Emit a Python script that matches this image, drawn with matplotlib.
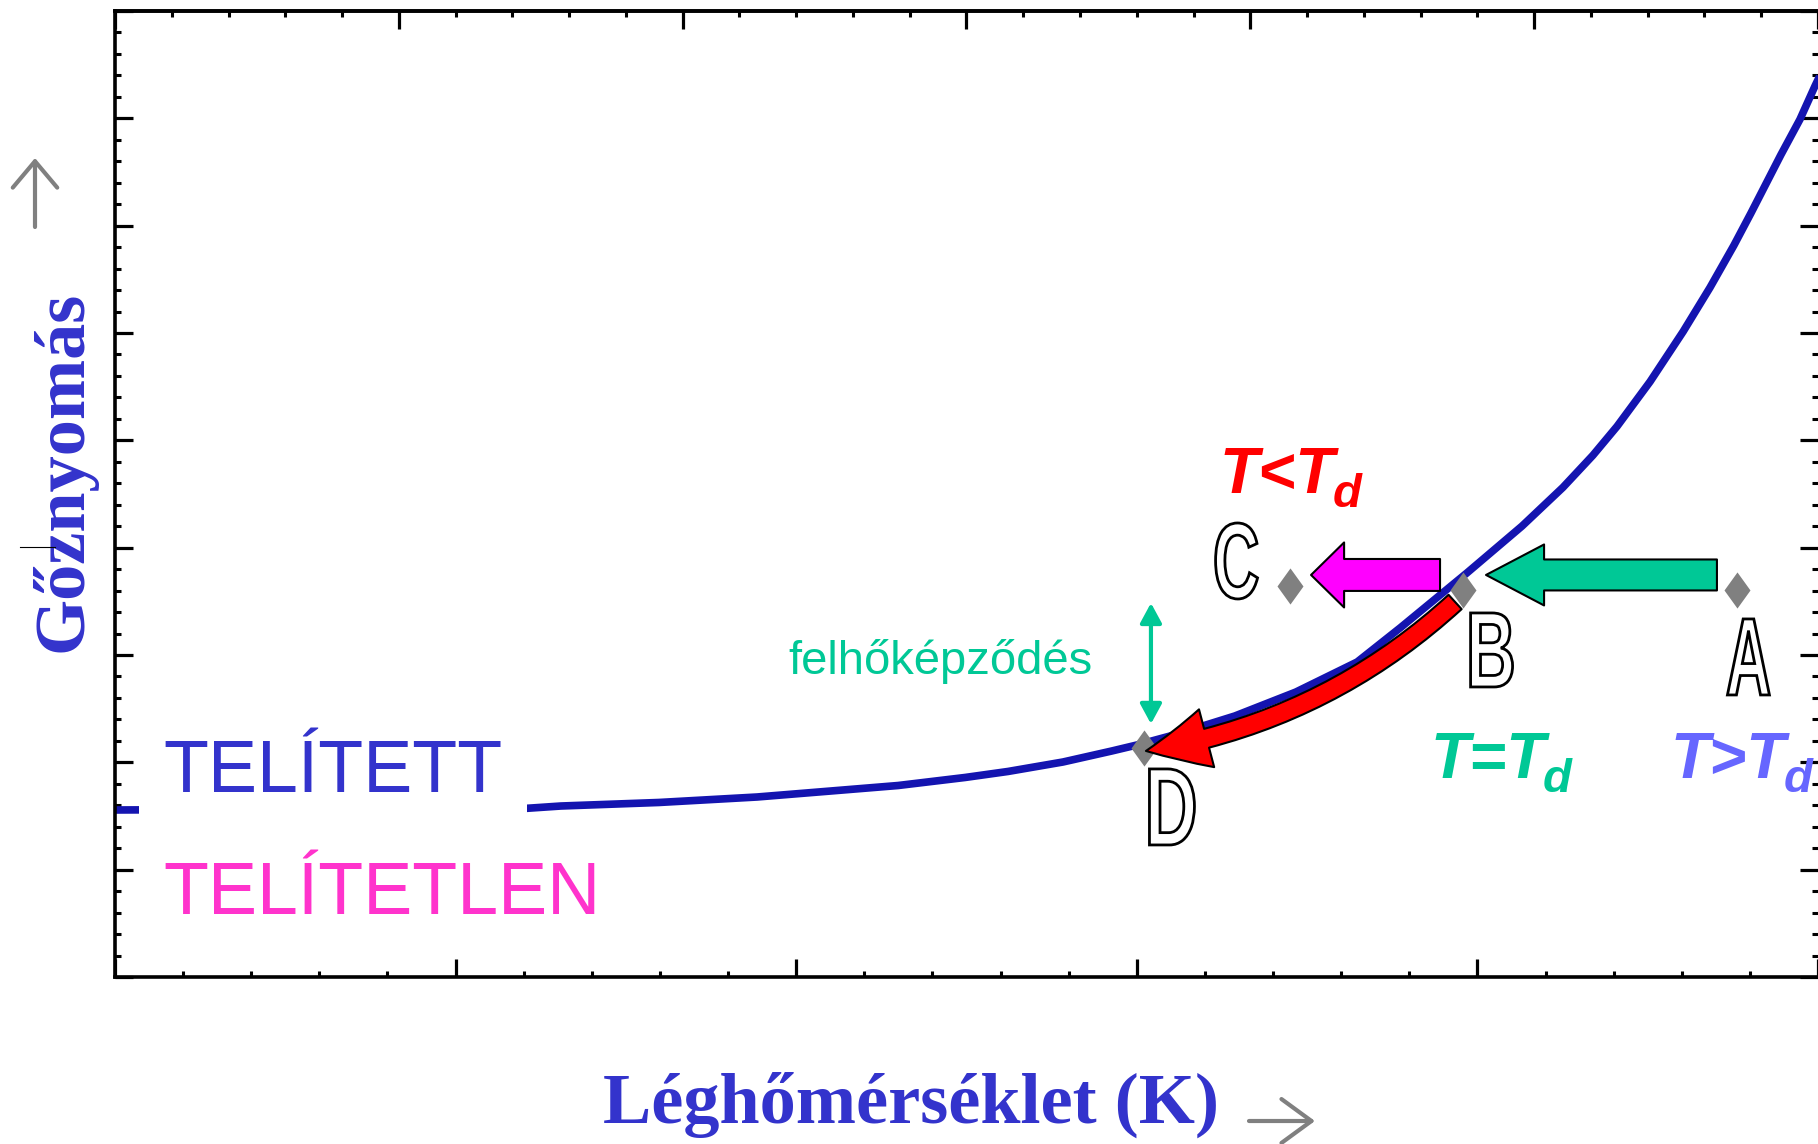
import matplotlib
matplotlib.use("Agg")
import matplotlib.pyplot as plt
import matplotlib.transforms as mtransforms
from matplotlib.patches import FancyArrowPatch, PathPatch, Rectangle, ArrowStyle
from matplotlib.textpath import TextPath
from matplotlib.font_manager import FontProperties
from matplotlib.ticker import MultipleLocator
from matplotlib.lines import Line2D

# saturation curve
curve_x = [0.000, 1.211, 1.309, 1.597, 1.885, 2.102, 2.299, 2.496, 2.622,
           2.783, 2.927, 3.001, 3.109, 3.288, 3.467, 3.647, 3.773, 3.969,
           4.131, 4.251, 4.339, 4.410, 4.507, 4.604, 4.683, 4.753, 4.803,
           4.891, 4.947, 4.991, 5.000]
curve_y = [1.556, 1.572, 1.593, 1.626, 1.677, 1.733, 1.784, 1.859, 1.915,
           2.003, 2.106, 2.162, 2.255, 2.432, 2.655, 2.935, 3.252, 3.764,
           4.201, 4.561, 4.860, 5.130, 5.547, 6.013, 6.424, 6.816, 7.116,
           7.660, 7.990, 8.300, 8.360]

# states of the air parcel
point_names = ["A", "B", "C", "D"]
point_x = [4.762, 3.958, 3.450, 3.021]
point_y = [3.606, 3.606, 3.643, 2.134]

W, H, DPI = 1818, 1144, 100
BLUE = "#3333cc"
GREEN = "#00c896"

fig = plt.figure(figsize=(W / DPI, H / DPI), dpi=DPI)
ax = fig.add_axes([115 / W, 1 - 977 / H, 1703 / W, 966 / H])
ax.set_xlim(0, 5)
ax.set_ylim(0, 9)
KX, KY = 5 / 1703, 9 / 966   # data units per pixel


def shift(dx, dy):
    # offset in pixels (y up)
    return mtransforms.ScaledTranslation(dx / DPI, dy / DPI, fig.dpi_scale_trans)


# axes frame and ticks
for s in ["left", "bottom", "top"]:
    ax.spines[s].set_linewidth(2.6)
ax.spines["right"].set_visible(False)
ax.xaxis.set_major_locator(MultipleLocator(1))
ax.xaxis.set_minor_locator(MultipleLocator(0.2))
ax.yaxis.set_major_locator(MultipleLocator(1))
ax.yaxis.set_minor_locator(MultipleLocator(0.2))
ax.tick_params(which="both", direction="in", left=True, right=True,
               bottom=True, top=False, labelleft=False, labelbottom=False)
ax.tick_params(which="major", length=13, width=2.3)
ax.tick_params(which="minor", length=4.5, width=2.2)

sec = ax.secondary_xaxis("top", functions=(lambda v: v * 6 / 5, lambda v: v * 5 / 6))
sec.xaxis.set_major_locator(MultipleLocator(1))
sec.xaxis.set_minor_locator(MultipleLocator(0.2))
sec.tick_params(which="both", direction="in", labeltop=False)
sec.tick_params(which="major", length=13, width=2.3)
sec.tick_params(which="minor", length=4.5, width=2.2)
sec.spines["top"].set_linewidth(2.6)

# curve + white gap behind the labels
ax.plot(curve_x, curve_y, color="#1414b0", lw=5.5, solid_joinstyle="round", zorder=2)
ax.add_patch(Rectangle((0.07, 1.42), 1.14, 0.28, facecolor="white",
                       edgecolor="none", zorder=2.5))

# diamonds
diamond = [(0, 1), (0.72, 0), (0, -1), (-0.72, 0), (0, 1)]
ax.plot(point_x, point_y, ls="none", marker=diamond, ms=26, color="#808080",
        mec="none", zorder=3)

pts = dict(zip(point_names, zip(point_x, point_y)))
xA, yA = pts["A"]
xB, yB = pts["B"]
xC, yC = pts["C"]
xD, yD = pts["D"]

# block arrows A->B (green), B->C (magenta), curved B->D (red)
ax.add_patch(FancyArrowPatch(
    (xA, yB), (xB, yB), transform=ax.transData + shift(0, 15),
    arrowstyle=ArrowStyle.Simple(head_length=41.8, head_width=43.9, tail_width=22.3),
    mutation_scale=1, shrinkA=14.4, shrinkB=16.5,
    fc=GREEN, ec="black", lw=1.5, zorder=4))
ax.add_patch(FancyArrowPatch(
    (xB, yB), (xC, yB), transform=ax.transData + shift(0, 15),
    arrowstyle=ArrowStyle.Simple(head_length=23.8, head_width=46.8, tail_width=23),
    mutation_scale=1, shrinkA=16.6, shrinkB=15.1,
    fc="#ff00ff", ec="black", lw=1.5, zorder=4))
ax.add_patch(FancyArrowPatch(
    (xB - 8 * KX, yB - 12 * KY), (xD + 2 * KX, yD - 3 * KY),
    connectionstyle="arc3,rad=-0.15",
    arrowstyle=ArrowStyle.Simple(head_length=44.6, head_width=43, tail_width=14),
    mutation_scale=1, shrinkA=0, shrinkB=0,
    fc="#ff0000", ec="black", lw=1.5, zorder=4))

# condensation height marker
ax.add_patch(FancyArrowPatch(
    (xD, yB), (xD, yD), transform=ax.transData + shift(7, 0),
    arrowstyle=ArrowStyle("<|-|>", head_length=12, head_width=6.5),
    mutation_scale=1, shrinkA=9.4, shrinkB=17.3,
    color=GREEN, lw=3, zorder=4))
ax.text(2.871, 2.824, "felhőképződés", fontsize=34, family="Liberation Sans",
        color=GREEN, ha="right", va="baseline", zorder=6)

# outlined point letters
letter_offsets = {"A": (11.5, -67), "B": (28.5, -60), "C": (-53.5, 25), "D": (28, -59)}
letter_sizes = {"A": (42, 76), "B": (42, 74), "C": (42, 76), "D": (45, 76)}
letter_font = FontProperties(family="Liberation Sans", weight="bold")
for name, x, y in zip(point_names, point_x, point_y):
    tp = TextPath((0, 0), name, size=100, prop=letter_font)
    bb = tp.get_extents()
    w, h = letter_sizes[name]
    dx, dy = letter_offsets[name]
    tr = (mtransforms.Affine2D()
          .translate(-(bb.x0 + bb.x1) / 2, -(bb.y0 + bb.y1) / 2)
          .scale(w / bb.width, h / bb.height)
          + mtransforms.ScaledTranslation(x, y, ax.transData) + shift(dx, dy))
    ax.add_patch(PathPatch(tp, transform=tr, facecolor="white",
                           edgecolor="black", lw=2.0, zorder=5))


# T vs Td labels
def td_label(x, y, rel, color):
    t = ax.text(x, y, "T" + rel + "T", fontsize=46, family="Liberation Sans",
                weight="bold", style="italic", color=color, va="baseline", zorder=6)
    ax.annotate("d", xy=(1, 0), xycoords=t, xytext=(-2, -1), textcoords="offset points",
                fontsize=34, family="Liberation Sans", weight="bold", style="italic",
                color=color, va="baseline", ha="left", zorder=6)


td_label(3.244, 4.511, "<", "#ff0000")
td_label(3.861, 1.855, "=", GREEN)
td_label(4.568, 1.855, ">", "#6666ff")

ax.text(0.141, 1.724, "TELÍTETT", fontsize=53, family="Liberation Sans",
        color=BLUE, va="baseline", ha="left", zorder=6)
ax.text(0.141, 0.587, "TELÍTETLEN", fontsize=53, family="Liberation Sans",
        color="#ff33cc", va="baseline", ha="left", zorder=6)

# axis titles
ax.set_xlabel("Léghőmérséklet (K)", fontsize=52, family="Liberation Serif",
              weight="bold", color=BLUE, va="baseline")
ax.xaxis.set_label_coords(0.4674, -0.1511)
ax.set_ylabel("Gőznyomás", fontsize=52, family="Liberation Serif",
              weight="bold", color=BLUE)
ax.yaxis.set_label_coords(-0.0106, 0.5238)

# gray direction arrows next to the titles (pixel coords)
px = mtransforms.IdentityTransform()
fig.add_artist(FancyArrowPatch((35, H - 227), (35, H - 158), transform=px,
                               arrowstyle=ArrowStyle("->", head_length=19, head_width=16),
                               mutation_scale=1, shrinkA=0, shrinkB=0,
                               color="#808080", lw=3))
fig.add_artist(FancyArrowPatch((1249, H - 1121), (1315, H - 1121), transform=px,
                               arrowstyle=ArrowStyle("->", head_length=21.6, head_width=15.8),
                               mutation_scale=1, shrinkA=0, shrinkB=0,
                               color="#808080", lw=3))
fig.add_artist(Line2D([20, 55], [H - 547, H - 547], transform=px, color="black", lw=0.8))

fig.savefig("out.png", dpi=DPI)
